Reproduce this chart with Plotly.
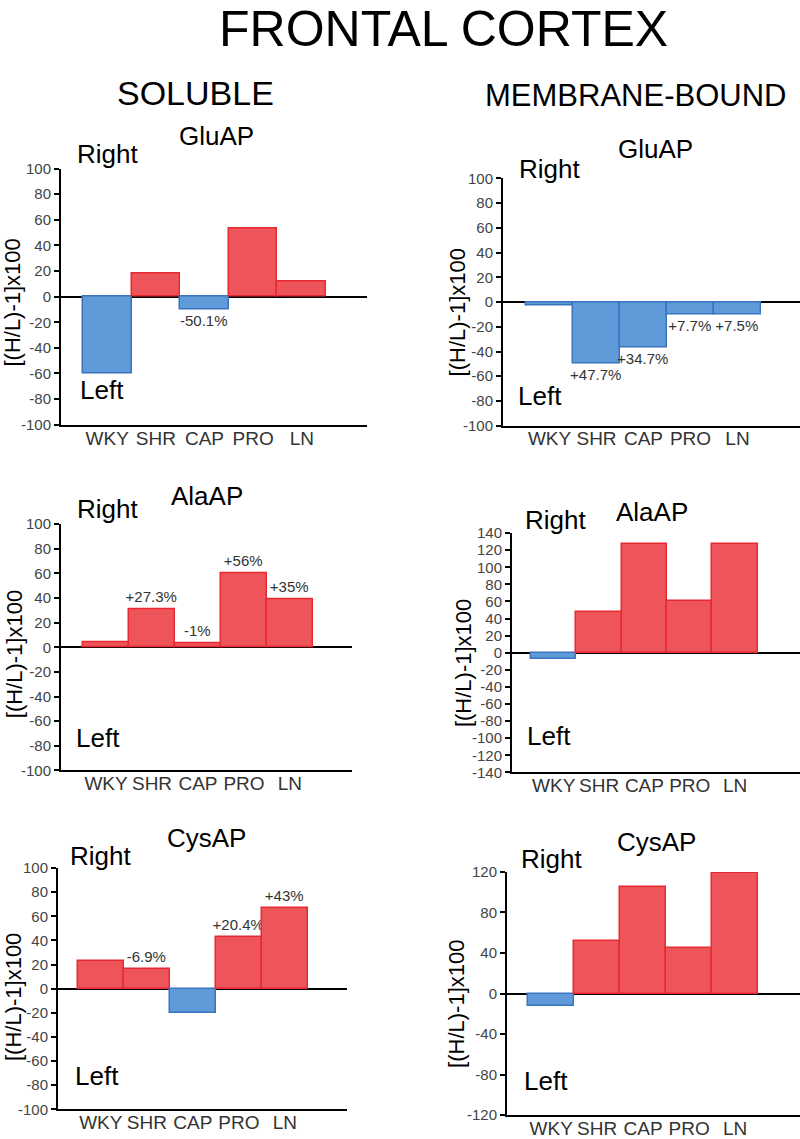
import plotly.graph_objects as go

# data
categorias = ["WKY", "SHR", "CAP", "PRO", "LN"]

sol_glu = [-60, 18, -10, 53, 12]
mem_glu = [-3, -50, -37, -10, -10]
sol_ala = [4, 31, 3, 60, 39]
mem_ala = [-7, 48, 127, 61, 127]
sol_cys = [23, 16, -20, 43, 67]
mem_cys = [-12, 52, 105, 45, 119]

sol_glu_txt = ["", "", "-50.1%", "", ""]
mem_glu_txt = ["", "+47.7%", "+34.7%", "+7.7%", "+7.5%"]
sol_ala_txt = ["", "+27.3%", "-1%", "+56%", "+35%"]
mem_ala_txt = ["", "", "", "", ""]
sol_cys_txt = ["", "-6.9%", "", "+20.4%", "+43%"]
mem_cys_txt = ["", "", "", "", ""]

W, H = 800, 1139
ROJO, ROJO_BORDE = "#EE555B", "#E62A30"
AZUL, AZUL_BORDE = "#5E9BD8", "#3A74BE"
FUENTE = "Liberation Sans, Arial, sans-serif"


def px_x(v):
    return v / W


def px_y(v):
    return 1 - v / H


# panel layout: axis box in pixels, y range, tick step, x range, text spots
paneles = [
    dict(vals=sol_glu, txt=sol_glu_txt, titulo="GluAP", box=(61, 367, 162, 422), yr=100, dt=20,
         xr=[-0.95, 5.34], t=(216, 129), r=(107, 147), l=(102, 387), yt=(13, 298)),
    dict(vals=mem_glu, txt=mem_glu_txt, titulo="GluAP", box=(503, 800, 172, 423), yr=100, dt=20,
         xr=[-0.99, 5.33], t=(655, 142), r=(549, 162), l=(540, 393), yt=(457, 308)),
    dict(vals=sol_ala, txt=sol_ala_txt, titulo="AlaAP", box=(61, 352, 523, 773), yr=100, dt=20,
         xr=[-0.98, 5.35], t=(207, 494), r=(107, 508), l=(98, 740), yt=(14, 655)),
    dict(vals=mem_ala, txt=mem_ala_txt, titulo="AlaAP", box=(512, 800, 532, 775), yr=140, dt=20,
         xr=[-0.92, 5.43], t=(652, 511), r=(555, 519), l=(549, 738), yt=(463, 664)),
    dict(vals=sol_cys, txt=sol_cys_txt, titulo="CysAP", box=(58, 347, 872, 1117), yr=100, dt=20,
         xr=[-0.93, 5.35], t=(207, 842), r=(100, 860), l=(97, 1083), yt=(13, 1003)),
    dict(vals=mem_cys, txt=mem_cys_txt, titulo="CysAP", box=(507, 800, 876, 1123), yr=120, dt=40,
         xr=[-0.96, 5.41], t=(656, 846), r=(551, 863), l=(546, 1088), yt=(457, 1010)),
]

fig = go.Figure()
anotaciones = []

for i, p in enumerate(paneles, start=1):
    sx = "" if i == 1 else str(i)
    colores = [ROJO if v >= 0 else AZUL for v in p["vals"]]
    bordes = [ROJO_BORDE if v >= 0 else AZUL_BORDE for v in p["vals"]]
    fig.add_trace(go.Bar(
        x=categorias,
        y=p["vals"],
        width=1,
        marker=dict(color=colores, line=dict(color=bordes, width=1.5)),
        text=p["txt"],
        textposition="outside",
        textfont=dict(size=15, color="#333333", family=FUENTE),
        constraintext="none",
        cliponaxis=False,
        xaxis="x" + sx,
        yaxis="y" + sx,
        hoverinfo="x+y",
    ))
    x0, x1, ytop, ybot = p["box"]
    # hyphen minus in tick labels, like the original
    marcas = list(range(-p["yr"], p["yr"] + 1, p["dt"]))
    fig.update_layout({
        "xaxis" + sx: dict(
            domain=[px_x(x0), px_x(x1)], anchor="y" + sx, type="category",
            categoryorder="array", categoryarray=categorias, range=p["xr"],
            showline=True, linecolor="black", linewidth=2, ticks="",
            showgrid=False, zeroline=False, fixedrange=True,
            ticklabelstandoff=-5,
            tickfont=dict(size=19, color="#333333", family=FUENTE),
        ),
        "yaxis" + sx: dict(
            domain=[px_y(ybot), px_y(ytop)], anchor="x" + sx,
            range=[-p["yr"], p["yr"]],
            tickvals=marcas, ticktext=[str(m) for m in marcas],
            showline=True, linecolor="black", linewidth=2,
            ticks="outside", ticklen=5, tickwidth=2, tickcolor="black",
            showgrid=False, zeroline=True, zerolinecolor="black", zerolinewidth=2,
            tickfont=dict(size=15, color="#444444", family=FUENTE),
            fixedrange=True,
        ),
    })
    anotaciones += [
        dict(text=p["titulo"], x=px_x(p["t"][0]), y=px_y(p["t"][1]), font=dict(size=26)),
        dict(text="Right", x=px_x(p["r"][0]), y=px_y(p["r"][1]), font=dict(size=26)),
        dict(text="Left", x=px_x(p["l"][0]), y=px_y(p["l"][1]), font=dict(size=26)),
        dict(text="[(H/L)-1]x100", x=px_x(p["yt"][0]), y=px_y(p["yt"][1]),
             textangle=-90, font=dict(size=22)),
    ]

anotaciones += [
    dict(text="FRONTAL CORTEX", x=px_x(443), y=px_y(20), font=dict(size=50)),
    dict(text="SOLUBLE", x=px_x(195), y=px_y(85), font=dict(size=34)),
    dict(text="MEMBRANE-BOUND", x=px_x(635), y=px_y(88), font=dict(size=31)),
]
for a in anotaciones:
    a.update(xref="paper", yref="paper", showarrow=False,
             xanchor="center", yanchor="middle")
    a["font"].update(family=FUENTE, color="black")

fig.update_layout(
    width=W, height=H,
    margin=dict(l=0, r=0, t=0, b=0),
    paper_bgcolor="white", plot_bgcolor="white",
    showlegend=False, bargap=0,
    annotations=anotaciones,
)

fig.write_html(
    "out.html",
    config={"displayModeBar": False},
    post_script="document.body.style.margin='0';document.body.style.overflow='hidden';",
)
